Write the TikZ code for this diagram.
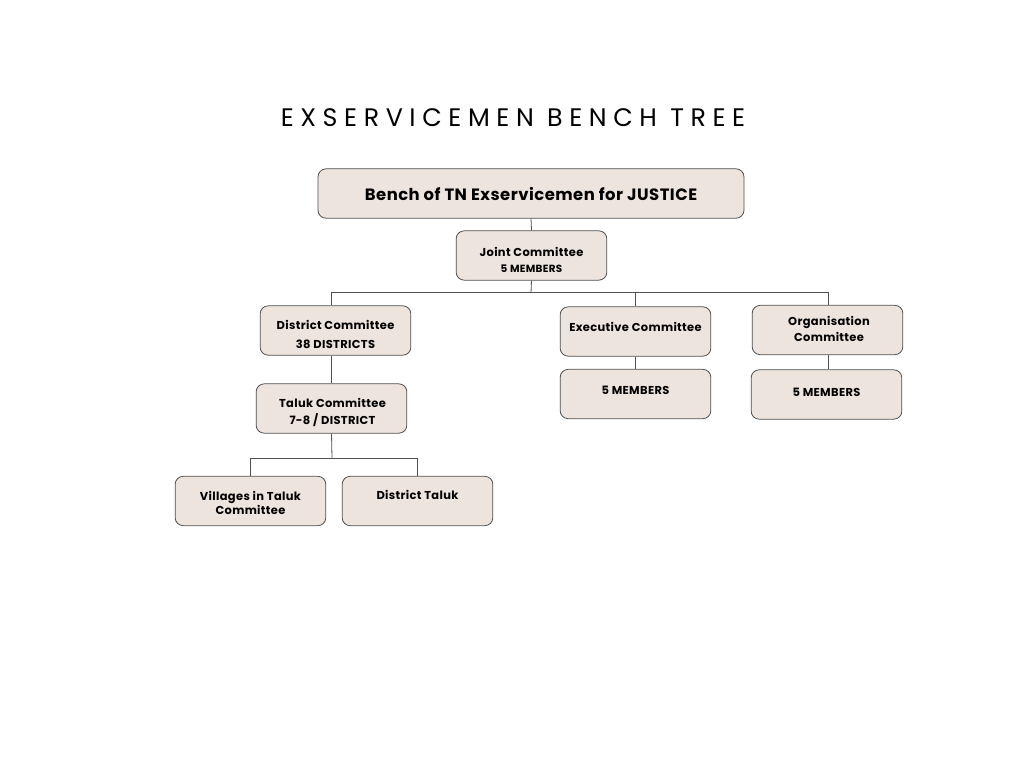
\documentclass[tikz,border=0pt]{standalone}
\usepackage{fontspec}
\setmainfont{Poppins}
\newfontfamily\titlefont[LetterSpace=26]{Poppins}
\newfontfamily\lblfont[LetterSpace=3]{Poppins}
\definecolor{boxfill}{RGB}{237,228,221}
\definecolor{boxline}{RGB}{80,80,80}
\begin{document}
\begin{tikzpicture}[x=0.75pt,y=-0.75pt,
  box/.style={draw=boxline,fill=boxfill,rounded corners=6pt,line width=0.6pt,
    minimum width=113pt,minimum height=37pt,inner sep=0pt,align=center,
    font=\lblfont\fontsize{8.6}{11}\selectfont\bfseries},
  lbl/.style={inner sep=0pt,align=center,font=\lblfont\fontsize{8.6}{11}\selectfont\bfseries},
  conn/.style={draw=boxline,line width=0.6pt}]
\useasboundingbox (0,0) rectangle (1024,768);
\fill[white] (0,0) rectangle (1024,768);
\node[inner sep=0pt] (title) at (513,118) {\titlefont\fontsize{19}{22}\selectfont EXSERVICEMEN BENCH TREE};
\node[box,minimum width=319.5pt,font=\lblfont\fontsize{12.3}{14}\selectfont\bfseries] (top) at (531,193.5) {Bench of TN Exservicemen for JUSTICE};
\node[box] (joint) at (531.5,255.5) {};
\node[lbl] (jointl) at (531.5,260) {Joint Committee\\[0.5pt]\fontsize{7.8}{9}\selectfont 5 MEMBERS};
\node[box] (district) at (335.5,330.5) {};
\node[lbl] (districtl) at (335.5,334.5) {District Committee\\[3.3pt]38 DISTRICTS};
\node[box] (exec) at (635.5,331.5) {};
\node[lbl] (execl) at (635.5,327) {Executive Committee};
\node[box] (org) at (827.5,330) {};
\node[lbl] (orgl) at (829,329) {Organisation\\[1pt]Committee};
\node[box] (execm) at (635.5,394) {};
\node[lbl] (execml) at (635.5,390) {5 MEMBERS};
\node[box] (orgm) at (826.5,394.5) {};
\node[lbl] (orgml) at (826.5,392) {5 MEMBERS};
\node[box] (taluk) at (331.5,408.5) {};
\node[lbl] (talukl) at (332.5,412.5) {Taluk Committee\\[1.8pt]7-8 / DISTRICT};
\node[box] (vill) at (250.5,501) {};
\node[lbl] (villl) at (250.5,503) {Villages in Taluk\\[-0.5pt]Committee};
\node[box] (dtal) at (417.5,501) {};
\node[lbl] (dtall) at (417.5,495) {District Taluk};
% connectors
\draw[conn] (top.south) -- (joint.north);
\coordinate (bus) at (531,293);
\draw[conn] (joint.south) -- (bus);
\draw[conn] ([xshift=-3.4pt]district.north) -- ++(0,-13) -| ([xshift=1pt]org.north);
\draw[conn] (exec.north) -- ++(0,-14);
\draw[conn] ([xshift=-3.4pt]district.south) -- ([xshift=-3.4pt]district.south |- taluk.north);
\draw[conn] (exec.south) -- (execm.north);
\draw[conn] ([xshift=0.75pt]org.south) -- ([xshift=0.75pt]org.south |- orgm.north);
\coordinate (bus2) at (332,458);
\draw[conn] (taluk.south) -- (bus2);
\draw[conn] (vill.north) -- ++(0,-18) -| (dtal.north);
\end{tikzpicture}
\end{document}
